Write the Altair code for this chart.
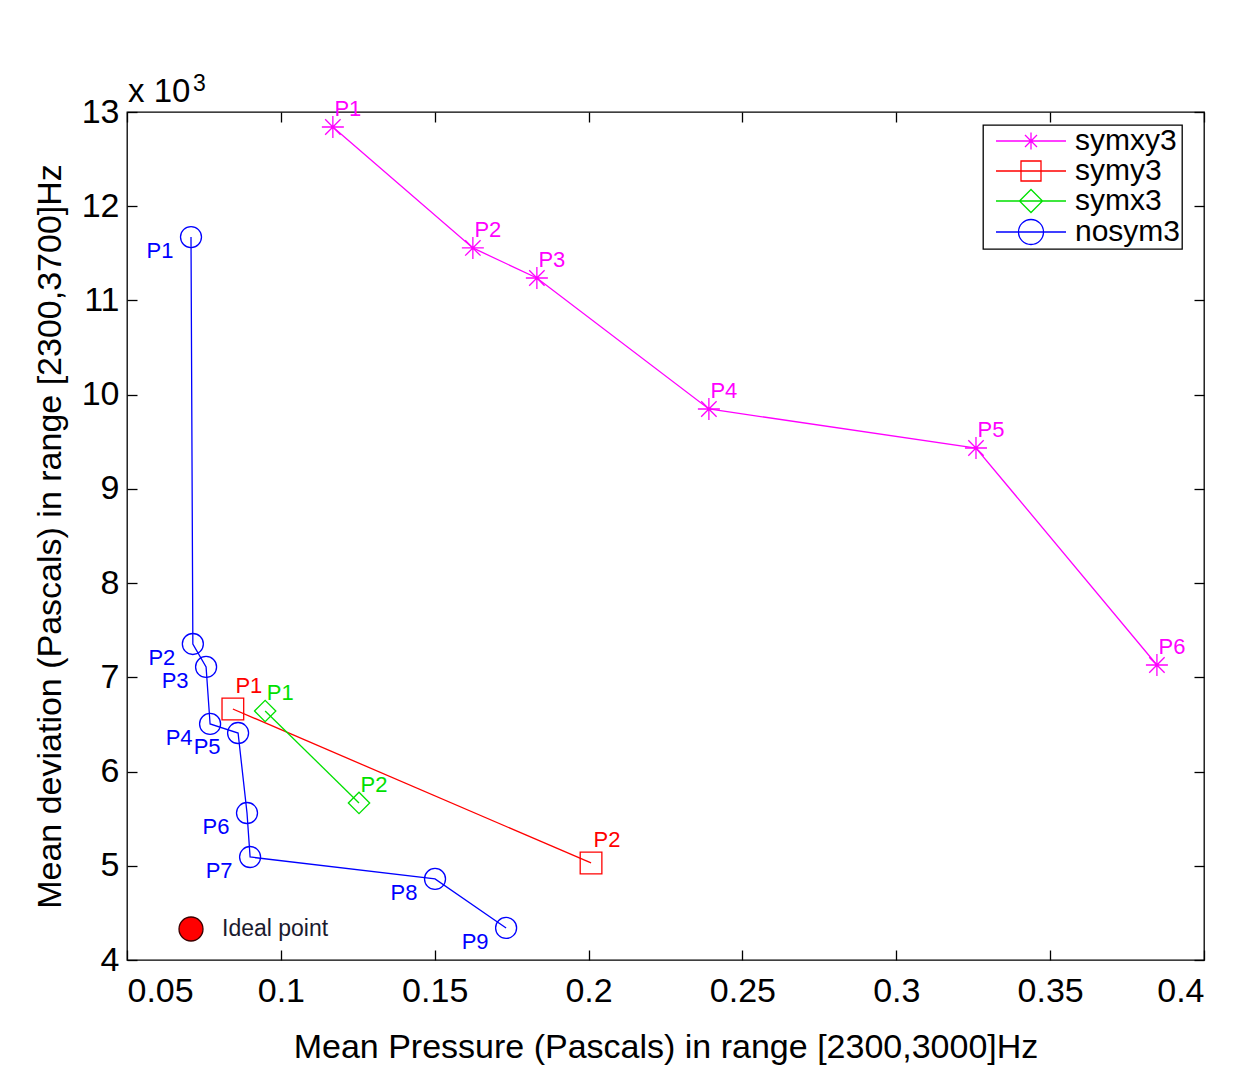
import altair as alt
import pandas as pd

# ---------------- data ----------------
series_names = ["symxy3", "symy3", "symx3", "nosym3"]
series_colors = ["#ff00ff", "#ff0000", "#00e000", "#0000ff"]

symxy3_x = [0.1169, 0.1624, 0.1832, 0.2391, 0.3259, 0.3847]
symxy3_y = [12841, 11557, 11238, 9848, 9434, 7131]
symy3_x = [0.0844, 0.2008]
symy3_y = [6664, 5030]
symx3_x = [0.0949, 0.1254]
symx3_y = [6643, 5667]
nosym3_x = [0.0708, 0.0714, 0.0757, 0.0770, 0.0861, 0.0890, 0.0900, 0.1501, 0.1732]
nosym3_y = [11673, 7354, 7110, 6505, 6409, 5560, 5093, 4860, 4340]

ideal_x = [0.0708]
ideal_y = [4329]
ideal_text = ["Ideal point"]

x_ticks = [0.05, 0.1, 0.15, 0.2, 0.25, 0.3, 0.35, 0.4]
y_ticks = [4000, 5000, 6000, 7000, 8000, 9000, 10000, 11000, 12000, 13000]

x_title = "Mean Pressure (Pascals) in range [2300,3000]Hz"
y_title = "Mean deviation (Pascals) in range [2300,3700]Hz"

rows = []
for name, xs, ys in [("symxy3", symxy3_x, symxy3_y), ("symy3", symy3_x, symy3_y),
                     ("symx3", symx3_x, symx3_y), ("nosym3", nosym3_x, nosym3_y)]:
    for i, (xv, yv) in enumerate(zip(xs, ys)):
        rows.append({"series": name, "idx": i, "label": f"P{i + 1}", "x": xv, "y": yv})
df = pd.DataFrame(rows)

ideal_df = pd.DataFrame({"x": ideal_x, "y": ideal_y, "label": ideal_text})
exp_df = pd.DataFrame({"x": [x_ticks[0]], "y": [y_ticks[-1]], "a": ["x 10"], "b": ["3"]})

# ---------------- styles ----------------
FONT = "Liberation Sans"
xscale = alt.Scale(domain=[0.05, 0.4], nice=False, zero=False)
yscale = alt.Scale(domain=[4000, 13000], nice=False, zero=False)


def cscale():
    return alt.Scale(domain=series_names, range=series_colors)


ast = "M-1,0H1M0,-1V1M-0.7,-0.7L0.7,0.7M-0.7,0.7L0.7,-0.7"
dia = "M-1,0L0,-1L1,0L0,1Z"
point_shapes = [ast, "square", dia, "circle"]
point_sizes = [484, 441, 625, 484]

# legend symbols: a line with the marker drawn on it (units of 10 px)
leg_shapes = [
    "M-0.3,0H6.7M3.2,-0.85V0.85M2.6,-0.6L3.8,0.6M2.6,0.6L3.8,-0.6",
    "M-0.3,0H6.7M2.2,-1H4.2V1H2.2Z",
    "M-0.3,0H6.7M2.05,0L3.2,-1.15L4.35,0L3.2,1.15Z",
    "M-0.3,0H6.7M4.45,0A1.25,1.25 0 1,1 1.95,0A1.25,1.25 0 1,1 4.45,0Z",
]

main_x_axis = alt.Axis(values=x_ticks, format=".2~f", ticks=False, tickSize=0, domain=False,
                       grid=False, labelPadding=14, title=x_title, titlePadding=22)
main_y_axis = alt.Axis(values=y_ticks, labelExpr="datum.value / 1000", ticks=False, tickSize=0,
                       domain=False, grid=False, labelPadding=8, title=y_title, titlePadding=14)


def tick_axis(orient):
    return alt.Axis(orient=orient, values=(x_ticks if orient in ("top", "bottom") else y_ticks),
                    labels=False, domain=False, grid=False, ticks=True, tickSize=10,
                    tickColor="black", tickWidth=1.3, offset=-10, title=None)


def make_legend():
    return alt.Legend(title=None, orient="none", legendX=856, legendY=13,
                      symbolSize=400, symbolStrokeWidth=1.3, symbolOpacity=1,
                      labelFontSize=30, labelOffset=61, labelColor="black",
                      labelExpr="datum.label + '\u00a0'",
                      padding=1, rowPadding=0, strokeColor="black",
                      fillColor="white", labelFont=FONT)


base = alt.Chart(df)

lines = base.mark_line(strokeWidth=1.3).encode(
    x=alt.X("x:Q", scale=xscale, axis=main_x_axis),
    y=alt.Y("y:Q", scale=yscale, axis=main_y_axis),
    color=alt.Color("series:N", scale=cscale(), legend=None),
    detail="series:N",
    order="idx:Q",
)

points = base.mark_point(filled=False, strokeWidth=1.3, opacity=1).encode(
    x=alt.X("x:Q", scale=xscale, axis=tick_axis("bottom")),
    y=alt.Y("y:Q", scale=yscale, axis=tick_axis("left")),
    color=alt.Color("series:N", scale=cscale(), legend=None),
    shape=alt.Shape("series:N", scale=alt.Scale(domain=series_names, range=point_shapes), legend=None),
    size=alt.Size("series:N", scale=alt.Scale(domain=series_names, range=point_sizes), legend=None),
)

legend_layer = base.mark_point(filled=False, strokeOpacity=0, strokeWidth=1.3).encode(
    x=alt.X("x:Q", scale=xscale, axis=None),
    y=alt.Y("y:Q", scale=yscale, axis=None),
    color=alt.Color("series:N", scale=cscale(), legend=make_legend()),
    shape=alt.Shape("series:N", scale=alt.Scale(domain=series_names, range=leg_shapes),
                    legend=make_legend()),
)


def label_layer(names, dx, dy, axis_x=None, axis_y=None):
    return base.transform_filter(
        alt.FieldOneOfPredicate(field="series", oneOf=names)
    ).mark_text(fontSize=22, font=FONT, dx=dx, dy=dy, align="center", baseline="middle").encode(
        x=alt.X("x:Q", scale=xscale, axis=axis_x),
        y=alt.Y("y:Q", scale=yscale, axis=axis_y),
        color=alt.Color("series:N", scale=cscale(), legend=None),
        text="label:N",
    )


lab_mag = label_layer(["symxy3", "symx3"], 15, -18)
lab_red = label_layer(["symy3"], 16, -23)
lab_blue = label_layer(["nosym3"], -31, 14, tick_axis("top"), tick_axis("right"))

ideal = alt.Chart(ideal_df).mark_point(filled=True, shape="circle", size=576, fill="#ff0000",
                                       stroke="#3a0000", strokeWidth=1.3, opacity=1).encode(
    x=alt.X("x:Q", scale=xscale, axis=None),
    y=alt.Y("y:Q", scale=yscale, axis=None),
)
ideal_lab = alt.Chart(ideal_df).mark_text(align="left", baseline="middle", dx=31, fontSize=23,
                                          font=FONT, color="#1a1a2e").encode(
    x=alt.X("x:Q", scale=xscale, axis=None),
    y=alt.Y("y:Q", scale=yscale, axis=None),
    text="label:N",
)

exp_a = alt.Chart(exp_df).mark_text(align="left", baseline="alphabetic", dx=1, dy=-10,
                                    fontSize=33, font=FONT, color="black").encode(
    x=alt.X("x:Q", scale=xscale, axis=None),
    y=alt.Y("y:Q", scale=yscale, axis=None),
    text="a:N",
)
exp_b = alt.Chart(exp_df).mark_text(align="left", baseline="alphabetic", dx=66, dy=-21,
                                    fontSize=23, font=FONT, color="black").encode(
    x=alt.X("x:Q", scale=xscale, axis=None),
    y=alt.Y("y:Q", scale=yscale, axis=None),
    text="b:N",
)

chart = alt.layer(
    lines, points, lab_mag, lab_red, lab_blue, ideal, ideal_lab, exp_a, exp_b, legend_layer
).resolve_scale(
    color="independent", shape="independent", size="independent"
).resolve_axis(
    x="independent", y="independent"
).properties(
    width=1077, height=848,
    padding={"left": 119, "top": 104, "right": 24, "bottom": 110},
    autosize=alt.AutoSizeParams(type="none"),
).configure(
    font=FONT
).configure_view(
    stroke="black", strokeWidth=1.3
).configure_axis(
    labelFont=FONT, titleFont=FONT, labelFontSize=34, titleFontSize=34,
    labelColor="black", titleColor="black", titleFontWeight="normal"
).configure_legend(
    strokeWidth=1.3
)

chart.save("out.html", embed_options={"renderer": "svg", "actions": False})
